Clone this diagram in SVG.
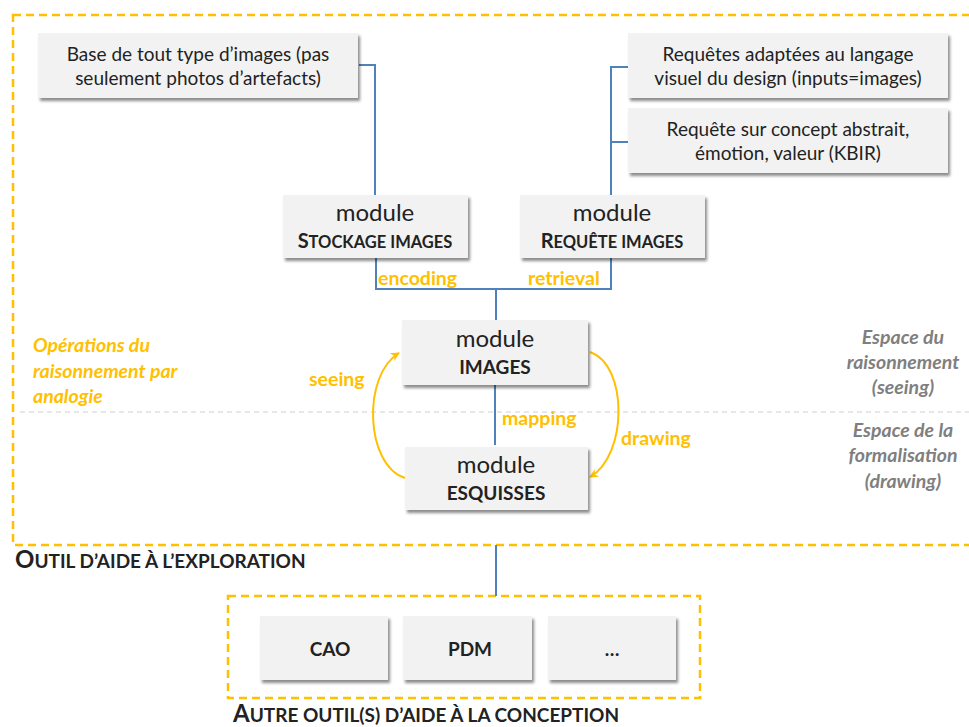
<svg xmlns="http://www.w3.org/2000/svg" width="969" height="727" viewBox="0 0 969 727">
<defs>
<style>
.t{font-family:"Lato","Open Sans","Liberation Sans",sans-serif;fill:#222;}
.n{font-size:19px;text-anchor:middle;}
.m{font-size:24px;}
.b{font-weight:bold;}
.box{fill:#f2f2f2;filter:url(#sh);}
.ln{fill:none;stroke:#4f81bd;stroke-width:2;}
.or{fill:#ffc000;font-weight:bold;font-size:19.5px;}
.gr{fill:#7f7f7f;font-weight:bold;font-style:italic;font-size:19.5px;text-anchor:middle;}
.arc{fill:none;stroke:#ffc000;stroke-width:2;marker-end:url(#ah);}
.dash{fill:none;stroke:#ffc000;stroke-width:2.5;stroke-dasharray:8 5;}
</style>
<filter id="sh" x="-10%" y="-20%" width="130%" height="150%">
<feDropShadow dx="2" dy="3" stdDeviation="1.5" flood-color="#000" flood-opacity="0.45"/>
</filter>
<marker id="ah" viewBox="0 0 10 10" refX="9" refY="5" markerWidth="9" markerHeight="9" orient="auto" markerUnits="userSpaceOnUse">
<path d="M0,0 L10,5 L0,10 L3,5 Z" fill="#ffc000"/>
</marker>
</defs>
<rect width="969" height="727" fill="#ffffff"/>
<g id="frame-exploration">
<rect x="13" y="15" width="975" height="530" fill="#fcfcfc" class="dash"/>
<line x1="20" y1="412" x2="969" y2="412" stroke="#d0d0d0" stroke-width="1" stroke-dasharray="5 4"/>
<text class="t b" x="15" y="568" font-size="24">O<tspan font-size="19">UTIL D’AIDE À L’EXPLORATION</tspan></text>
</g>
<g id="frame-conception">
<rect x="228" y="596" width="472" height="102" fill="#fcfcfc" class="dash"/>
<text class="t b" x="233" y="722" font-size="24">A<tspan font-size="19">UTRE OUTIL(S) D’AIDE À LA CONCEPTION</tspan></text>
</g>
<g id="connectors">
<polyline class="ln" points="359,65 375,65 375,195"/>
<polyline class="ln" points="628,67 611,67 611,195"/>
<line class="ln" x1="611" y1="142" x2="628" y2="142"/>
<polyline class="ln" points="376,258 376,289 611,289 611,258"/>
<line class="ln" x1="496" y1="289" x2="496" y2="320"/>
<line class="ln" x1="495" y1="385" x2="495" y2="445"/>
<line class="ln" x1="496" y1="545" x2="496" y2="596"/>
<path class="arc" d="M405,478 C365,465 362,375 399,353"/>
<path class="arc" d="M590,352 C628,365 628,455 590,477"/>
<text class="t or" x="378" y="285">encoding</text>
<text class="t or" x="528" y="285">retrieval</text>
<text class="t or" x="502" y="425">mapping</text>
<text class="t or" x="309" y="386">seeing</text>
<text class="t or" x="621" y="445">drawing</text>
</g>
<g id="base">
<rect class="box" x="38" y="33" width="320" height="65"/>
<text class="t n" x="198" y="61">Base de tout type d’images (pas</text>
<text class="t n" x="198" y="85">seulement photos d’artefacts)</text>
</g>
<g id="req-visuel">
<rect class="box" x="628" y="33" width="320" height="65"/>
<text class="t n" x="788" y="61">Requêtes adaptées au langage</text>
<text class="t n" x="788" y="85">visuel du design (inputs=images)</text>
</g>
<g id="req-concept">
<rect class="box" x="628" y="108" width="320" height="65"/>
<text class="t n" x="788" y="136">Requête sur concept abstrait,</text>
<text class="t n" x="788" y="160">émotion, valeur (KBIR)</text>
</g>
<g id="mod-stockage">
<rect class="box" x="283" y="195" width="185" height="63"/>
<text class="t n m" x="375" y="221">module</text>
<text class="t n b" x="375" y="248"><tspan font-size="20">S</tspan><tspan font-size="16.5">TOCKAGE IMAGES</tspan></text>
</g>
<g id="mod-requete">
<rect class="box" x="520" y="195" width="185" height="63"/>
<text class="t n m" x="612" y="221">module</text>
<text class="t n b" x="612" y="248"><tspan font-size="20">R</tspan><tspan font-size="16.5">EQUÊTE IMAGES</tspan></text>
</g>
<g id="mod-images">
<rect class="box" x="402" y="320" width="186" height="65"/>
<text class="t n m" x="495" y="347">module</text>
<text class="t n b" x="495" y="374" font-size="15.5">IMAGES</text>
</g>
<g id="mod-esquisses">
<rect class="box" x="405" y="447" width="183" height="63"/>
<text class="t n m" x="496" y="473">module</text>
<text class="t n b" x="496" y="500" font-size="15.5">ESQUISSES</text>
</g>
<g id="labels">
<text class="t or" font-style="italic" x="33" y="352">Opérations du</text>
<text class="t or" font-style="italic" x="33" y="378">raisonnement par</text>
<text class="t or" font-style="italic" x="33" y="403">analogie</text>
<text class="t gr" x="903" y="344">Espace du</text>
<text class="t gr" x="903" y="369">raisonnement</text>
<text class="t gr" x="903" y="394">(seeing)</text>
<text class="t gr" x="903" y="437">Espace de la</text>
<text class="t gr" x="903" y="462">formalisation</text>
<text class="t gr" x="903" y="488">(drawing)</text>
</g>
<g id="cao">
<rect class="box" x="260" y="616" width="128" height="64"/>
<text class="t n b" x="330" y="656" font-size="22">CAO</text>
</g>
<g id="pdm">
<rect class="box" x="403" y="616" width="129" height="64"/>
<text class="t n b" x="470" y="656" font-size="22">PDM</text>
</g>
<g id="etc">
<rect class="box" x="548" y="616" width="128" height="64"/>
<text class="t n b" x="612" y="656" font-size="22">…</text>
</g>
</svg>
